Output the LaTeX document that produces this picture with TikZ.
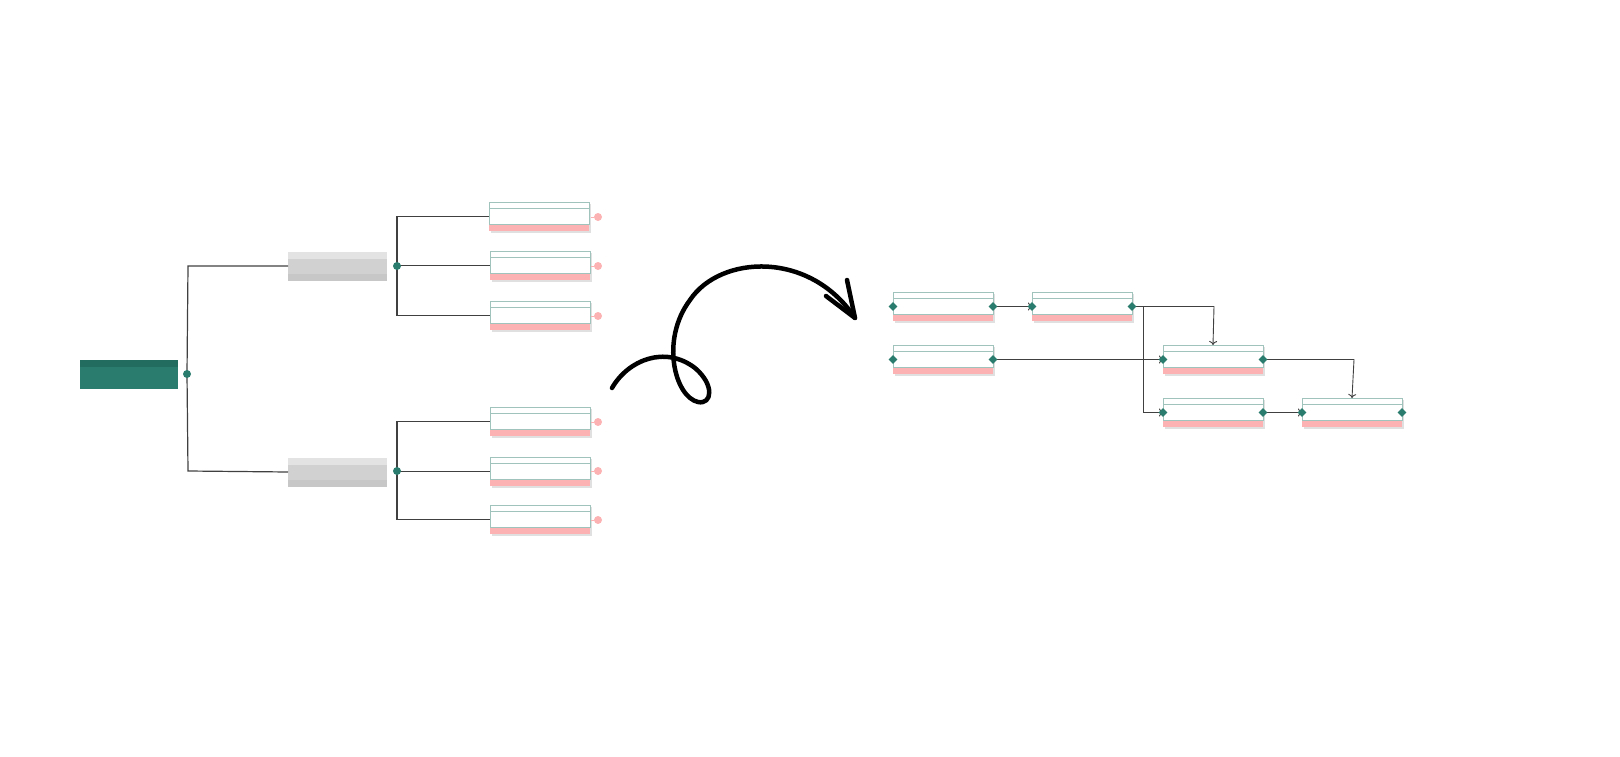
\documentclass[tikz,border=0pt]{standalone}
\usetikzlibrary{arrows.meta,shapes.geometric}
\definecolor{tl}{RGB}{42,125,110}
\definecolor{tld}{RGB}{34,108,95}
\definecolor{pk}{RGB}{252,178,178}
\definecolor{ol}{RGB}{160,195,188}
\begin{document}
\begin{tikzpicture}[x=1pt,y=-1pt,
  conn/.style={draw=black!75,line width=1.2pt},
  thin/.style={draw=black!75,line width=0.9pt},
  tdot/.style={circle,fill=tl,minimum size=8pt,inner sep=0pt},
  pdot/.style={circle,fill=pk,minimum size=8pt,inner sep=0pt},
  dia/.style={diamond,fill=tl,minimum size=9pt,inner sep=0pt},
  arr/.style={thin,-{To[length=4pt,width=8pt]}}]
\useasboundingbox (0,0) rectangle (1620,757);
\def\task#1#2#3{%
  \fill[black!12] (#2+1.5,#3+1.5) rectangle (#2+101.5,#3+30.5);
  \fill[white] (#2,#3) rectangle (#2+100,#3+29);
  \fill[pk] (#2,#3+22) rectangle (#2+100,#3+29);
  \draw[ol,line width=0.6pt] (#2,#3) rectangle (#2+100,#3+22);
  \draw[ol,line width=0.6pt] (#2,#3+6) -- (#2+100,#3+6);
  \coordinate (#1w) at (#2,#3+14.5);
  \coordinate (#1e) at (#2+100,#3+14.5);
  \coordinate (#1n) at (#2+50,#3);}
% left tree
\fill[tl] (80,360) rectangle (178,389);
\fill[tld] (80,360) rectangle (178,367);
\coordinate (root) at (187,374);
\foreach \y/\n in {252/g1,458/g2}{
  \fill[black!18] (288,\y) rectangle (387,\y+29);
  \fill[black!11] (288,\y) rectangle (387,\y+7);
  \fill[black!22] (288,\y+22) rectangle (387,\y+29);
  \coordinate (\n) at (288,\y+14);}
\coordinate (h1) at (397,266);
\coordinate (h2) at (397,471);
\draw[conn] (root) -- (188,266) -- (g1);
\draw[conn] (root) -- (188,471) -- (g2);
\task{l1}{489}{202}
\task{l2}{490}{251}
\task{l3}{490}{301}
\task{l4}{490}{407}
\task{l5}{490}{457}
\task{l6}{490}{505}
\foreach \a/\b in {h1/l1,h1/l2,h1/l3,h2/l4,h2/l5,h2/l6}
  \draw[conn] (\a) |- (\b w);
\foreach \n/\y in {p1/217,p2/266,p3/316,p4/422,p5/471,p6/520}{
  \node[pdot] (\n) at (598,\y) {};
  \draw[pk,line width=0.6pt] (591,\y) -- (\n);}
\node[tdot] (rootd) at (root) {};
\node[tdot] (h1d) at (h1) {};
\node[tdot] (h2d) at (h2) {};
% curly arrow
\draw[line width=4.5pt,line cap=round,line join=round]
  (612,388) .. controls (628,360) and (665,345) .. (695,368)
  .. controls (715,385) and (712,405) .. (698,402)
  .. controls (675,397) and (660,340) .. (690,300)
  .. controls (720,255) and (810,250) .. (855,318);
\draw[line width=4.5pt,line cap=round,line join=round]
  (826,296) -- (855,318) -- (847,280);
% right network
\task{A}{893}{292}
\task{B}{1032}{292}
\task{C}{893}{345}
\task{D}{1163}{345}
\task{E}{1163}{398}
\task{F}{1302}{398}
\draw[arr] (Ae) -- (Bw);
\draw[arr] (Be) -- (1214,306.5) -- (Dn);
\draw[arr] (1143,306.5) -- (1143,412.5) -- (Ew);
\draw[arr] (Ce) -- (Dw);
\draw[arr] (De) -- (1354,359.5) -- (Fn);
\draw[arr] (Ee) -- (Fw);
\foreach \n in {A,B,C,D,E,F}{
  \node[dia] at (\n w) {};
  \node[dia] at (\n e) {};}
\end{tikzpicture}
\end{document}
